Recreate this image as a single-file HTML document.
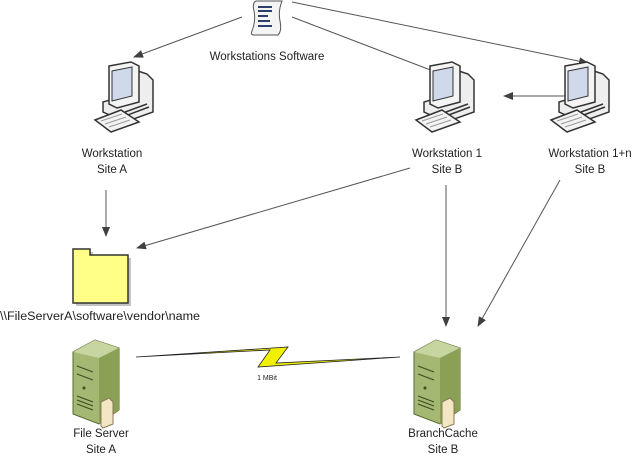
<!DOCTYPE html>
<html><head><meta charset="utf-8"><style>
html,body{margin:0;padding:0;background:#fff;}
svg{display:block;font-family:"Liberation Sans",sans-serif;}
</style></head><body>
<svg width="640" height="457" viewBox="0 0 640 457" xmlns="http://www.w3.org/2000/svg">
<defs>
<marker id="a" markerWidth="10" markerHeight="8" refX="9" refY="4" orient="auto" markerUnits="userSpaceOnUse">
<path d="M0,0 L10,4 L0,8 Z" fill="#404040"/></marker>
<g id="pc">
 <path d="M34,6 L52,12 L58,18 L58,50 L30,60 L8,50 L8,40 L34,32 Z" fill="#eee" stroke="#333" stroke-width="1.5"/>
 <path d="M14,4 L36,0 L44,4 L44,40 L22,46 L14,42 Z" fill="#f4f4f4" stroke="#333" stroke-width="1.5"/>
 <path d="M17,9 L37,5 L37,34 L17,39 Z" fill="#cfd9ea" stroke="#333" stroke-width="1"/>
 <path d="M30,54 L54,45 M30,50 L52,42" stroke="#333" stroke-width="1.5"/>
 <path d="M0,58 L26,48 L44,60 L16,70 Z" fill="#f4f4f4" stroke="#333" stroke-width="1.5"/>
 <path d="M6,59 L27,52 M10,62 L31,55 M14,65 L35,58" stroke="#999" stroke-width="1"/>
</g>
<g id="srv">
 <path d="M0,12 L22,0 L46,8 L46,70 L26,84 L0,74 Z" fill="#a4b873" stroke="#556b2f" stroke-width="1"/>
 <path d="M0,12 L22,0 L46,8 L26,18 Z" fill="#c7d5a0"/>
 <path d="M26,18 L46,8 L46,70 L26,84 Z" fill="#8aa055"/>
 <path d="M4,26 L20,32 M4,34 L20,40 M4,56 L20,62 M4,60 L20,66 M4,64 L20,70" stroke="#3d4d20" stroke-width="1.2"/>
 <circle cx="11" cy="48" r="1.5" fill="#3d4d20"/>
 <path d="M28,62 L36,58 L40,62 L40,84 L30,88 L28,86 Z" fill="#f3e6c4" stroke="#8a7a55" stroke-width="1"/>
</g>
</defs>
<g stroke="#555" stroke-width="1" fill="none" marker-end="url(#a)">
<line x1="242" y1="17" x2="134" y2="57"/>
<line x1="292" y1="17" x2="441" y2="74"/>
<line x1="292" y1="2" x2="588" y2="63"/>
<line x1="570" y1="96" x2="504" y2="96"/>
<line x1="106" y1="190" x2="106" y2="236"/>
<line x1="410" y1="168" x2="137" y2="248"/>
<line x1="446" y1="185" x2="446" y2="326"/>
<line x1="560" y1="180" x2="478" y2="326"/>
</g>
<g transform="translate(250,1)">
<path d="M6,0 L32,0 Q28,10 30,20 Q32,30 28,34 L4,34 Q0,34 2,30 Q6,20 4,10 Q2,2 6,0 Z" fill="#f4f4f4" stroke="#555"/>
<path d="M8,6 h14 M8,10 h14 M8,15 h10 M8,20 h12 M8,25 h14" stroke="#2c3e6c" stroke-width="2"/>
</g>
<use href="#pc" x="95" y="62"/>
<use href="#pc" x="416" y="62"/>
<use href="#pc" x="551" y="62"/>
<path d="M76,252 L93,252 L93,258 L131,258 L131,306 L76,306 Z" fill="#888" opacity="0.5"/>
<path d="M73,249 L90,249 L90,255 L128,255 L128,303 L73,303 Z" fill="#ffff88" stroke="#333" stroke-width="1.5"/>
<use href="#srv" x="73" y="340"/>
<use href="#srv" x="414" y="340"/>
<path d="M136,357 L270,350 L258,367 L400,357 L276,363 L288,347 Z" fill="#f0f000" stroke="#222" stroke-width="0.8"/>
<g font-size="11.5" fill="#222" text-anchor="middle">
<text x="267" y="60">Workstations Software</text>
<text x="112" y="157">Workstation</text><text x="112" y="173">Site A</text>
<text x="447" y="157">Workstation 1</text><text x="447" y="173">Site B</text>
<text x="590" y="157">Workstation 1+n</text><text x="590" y="173">Site B</text>
<text x="100" y="320" textLength="200" lengthAdjust="spacingAndGlyphs">\\FileServerA\software\vendor\name</text>
<text x="101" y="437">File Server</text><text x="101" y="453">Site A</text>
<text x="443" y="437">BranchCache</text><text x="443" y="453">Site B</text>
<text x="267" y="380" font-size="7">1 MBit</text>
</g>
</svg>
</body></html>
